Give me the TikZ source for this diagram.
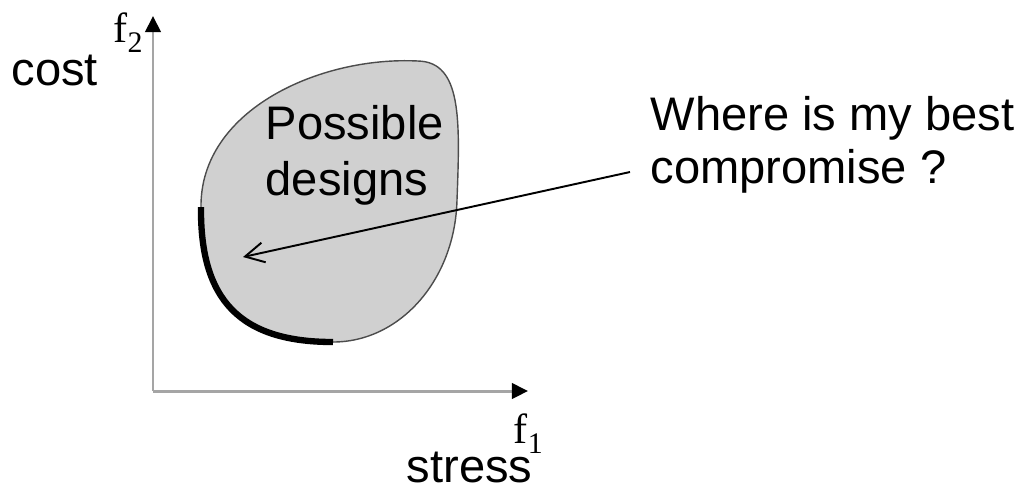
\documentclass[tikz,border=0pt]{standalone}
\usepackage{fontspec}
\setmainfont{Liberation Sans}
\newfontfamily\timesfont{Liberation Serif}
\usepackage{xcolor}
\usetikzlibrary{positioning, arrows.meta}

\definecolor{regiongray}{RGB}{208,208,208}
\definecolor{axisgray}{RGB}{165,165,165}
\newcommand{\fvar}[1]{{\timesfont\fontsize{12}{14}\selectfont f\raisebox{-3pt}{\fontsize{8.5}{10}\selectfont #1}}}

\tikzset{
    axis/.style={axisgray, line width=0.85pt, -{Triangle[length=4.6pt, width=4.4pt, color=black, fill=black]}},
    word/.style={anchor=base west, inner sep=0pt},
}

\begin{document}
\begin{tikzpicture}[x=0.1mm, y=-0.1mm, font=\fontsize{13.4}{15.6}\selectfont]
                \useasboundingbox (0,0) rectangle (1024,489);

                \coordinate (o) at (153,391);
                \coordinate (ytip) at (153,16);
                \coordinate (xtip) at (528,391);

                \draw[fill=regiongray, draw=black!70, line width=0.4pt] (201,207) .. controls (200,300) and (240,342) .. (333,342)
                    .. controls (400,342) and (455,280) .. (457,200)
                    .. controls (460,120) and (462,62) .. (418,61)
                    .. controls (320,56) and (200,110) .. (201,207) -- cycle;
                \draw[line width=1.8pt] (201,207) .. controls (200,300) and (240,342) .. (333,342);

                \draw[axis] (o) -- (ytip);
                \draw[axis] (o) -- (xtip);

                \node[word] (cost) at (11,85) {cost};
                \node[word] (f2) at (113,42) {\fvar{2}};
                \node[word] (f1) at (513,443) {\fvar{1}};
                \node[word] (stress) at (406,482) {stress};

                \node[word] (possible) at (265,139) {Possible};
                \node[word] (designs) at (265,195) {designs};

                \node[word] (where) at (650,130) {Where is my best};
                \node[word] (compromise) at (650,183) {compromise ?};

                \coordinate (askfrom) at (630,172);
                \coordinate (askto) at (243,257);
                \draw[-{Straight Barb[length=5.4pt, width=5.7pt]}, line width=0.55pt] (askfrom) -- (askto);
            \end{tikzpicture}
\end{document}
